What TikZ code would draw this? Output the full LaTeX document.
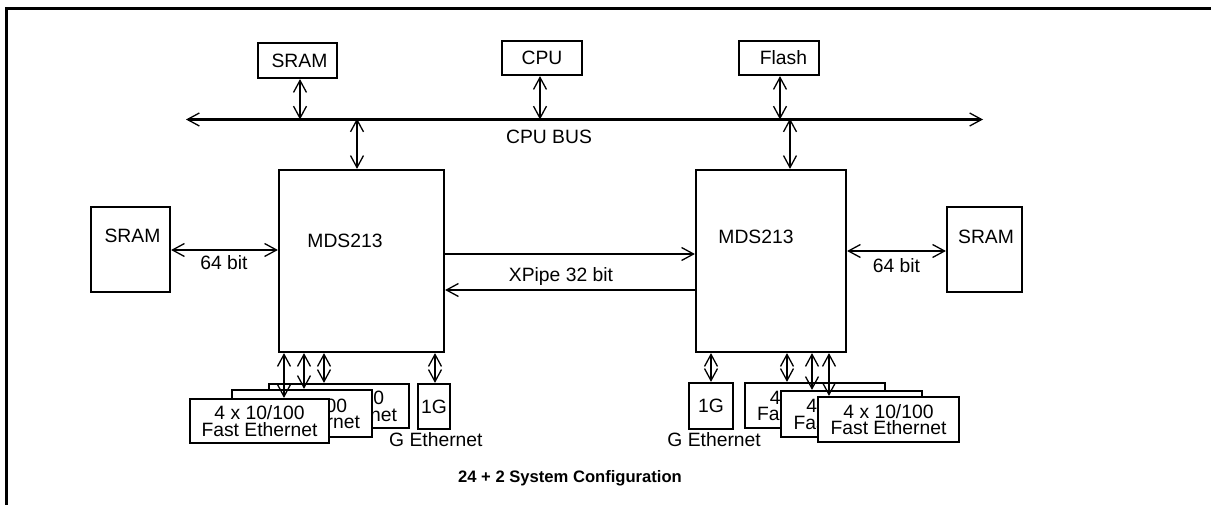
\documentclass[tikz,border=0pt]{standalone}
\usepackage{fontspec}
\setmainfont{Liberation Sans}
\usetikzlibrary{arrows.meta}
\newcommand\myfs{\fontsize{19.3}{16.5}\selectfont}
\tikzset{
  bb/.tip={Straight Barb[length=12pt,width=13pt,line width=1.3pt]},
  ln/.style={line width=2.2pt},
  both/.style={ln, bb-bb},
  tor/.style={ln, -bb},
  blk/.style={draw, line width=2.2pt, inner sep=0pt, fill=white, font=\myfs, align=center},
  capbox/.style={blk, text height=13.8pt, text depth=0pt},
  lbl/.style={inner sep=0pt, font=\myfs, text height=13.8pt, text depth=0pt},
}
\begin{document}
\begin{tikzpicture}[x=1pt,y=-1pt]
\useasboundingbox (0,0) rectangle (1211,505);
% frame
\coordinate (fTL) at (6,8.5);
\coordinate (fTR) at (1211,8.5);
\coordinate (fBL) at (6,505);
\draw[line width=3pt] (fTR) -- (fTL) -- (fBL);

% CPU bus
\coordinate (busL) at (186,119.5);
\coordinate (busR) at (983,119.5);
\draw[both] (busL) -- (busR);
\node[lbl] (busLabel) at (549,137) {CPU BUS};

% top devices
\node[capbox, minimum width=79pt, minimum height=35pt] (sramT) at (297.5,60.5) {\hspace*{4pt}SRAM};
\node[capbox, minimum width=80pt, minimum height=34pt] (cpu) at (542,58) {CPU};
\node[capbox, minimum width=80pt, minimum height=34pt] (flash) at (779,58) {\hspace*{9pt}Flash};
\coordinate (tapSram) at (300,119.5);
\coordinate (tapCpu) at (540,119.5);
\coordinate (tapFlash) at (780,119.5);
\coordinate (tapL) at (357,119.5);
\coordinate (tapR) at (790,119.5);

% MDS213 chips
\node[blk, minimum width=165pt, minimum height=182pt] (mdsL) at (361.5,261) {};
\node[blk, minimum width=150pt, minimum height=182pt] (mdsR) at (771,261) {};
\node[lbl] (mdsLtxt) at (345,241) {MDS213};
\node[lbl] (mdsRtxt) at (756,237) {MDS213};

% side SRAMs
\node[blk, minimum width=79pt, minimum height=85pt] (sramL) at (130.5,249.5) {};
\node[lbl] (sramLtxt) at (132.5,236) {SRAM};
\node[blk, minimum width=75pt, minimum height=85pt] (sramR) at (984.5,249.5) {};
\node[lbl] (sramRtxt) at (986,237) {SRAM};

% bus connections
\draw[both] (sramT.south -| tapSram) -- (tapSram);
\draw[both] (cpu.south -| tapCpu) -- (tapCpu);
\draw[both] (flash.south -| tapFlash) -- (tapFlash);
\draw[both] ([yshift=1pt]tapL) -- (tapL |- mdsL.north);
\draw[both] ([yshift=1pt]tapR) -- (tapR |- mdsR.north);

% 64 bit links
\coordinate (l64) at (0,250);
\coordinate (r64) at (0,251);
\draw[both] (sramL.east |- l64) -- (mdsL.west |- l64);
\node[lbl] (l64txt) at (224,263) {64 bit};
\draw[both] (mdsR.east |- r64) -- (sramR.west |- r64);
\node[lbl] (r64txt) at (896.5,266) {64 bit};

% XPipe
\coordinate (xpU) at (0,254);
\coordinate (xpD) at (0,290);
\draw[tor] (mdsL.east |- xpU) -- (mdsR.west |- xpU);
\draw[tor] (mdsR.west |- xpD) -- (mdsL.east |- xpD);
\node[lbl] (xpTxt) at (561,275) {XPipe 32 bit};

% bottom left ports
\node[blk, minimum width=140pt, minimum height=44pt] (feL3) at (339,406) {4 x 10/100\\Fast Ethernet};
\node[blk, minimum width=140pt, minimum height=47pt] (feL2) at (302,413.5) {4 x 10/100\\Fast Ethernet};
\node[blk, minimum width=139pt, minimum height=44pt] (feL1) at (259.5,421) {4 x 10/100\\Fast Ethernet};
\node[capbox, minimum width=32pt, minimum height=45pt] (gL) at (434,406.5) {1G};
\node[lbl, anchor=west] (gLtxt) at (389,440) {G Ethernet};

% bottom right ports
\node[capbox, minimum width=44pt, minimum height=46pt] (gR) at (711,406) {1G};
\node[lbl, anchor=east] (gRtxt) at (761,440) {G Ethernet};
\node[blk, minimum width=140pt, minimum height=45pt] (feR3) at (815,405.5) {4 x 10/100\\Fast Ethernet};
\node[blk, minimum width=141pt, minimum height=46pt] (feR2) at (851.5,414) {4 x 10/100\\Fast Ethernet};
\node[blk, minimum width=141pt, minimum height=45pt] (feR1) at (888.5,419.5) {4 x 10/100\\Fast Ethernet};

% bottom connectors
\coordinate (pL1) at (284,0);
\coordinate (pL2) at (304,0);
\coordinate (pL3) at (324,0);
\coordinate (pLg) at (435,0);
\draw[both] (mdsL.south -| pL1) -- (feL1.north -| pL1);
\draw[both] (mdsL.south -| pL2) -- (feL2.north -| pL2);
\draw[both] (mdsL.south -| pL3) -- (feL3.north -| pL3);
\draw[both] (mdsL.south -| pLg) -- (gL.north -| pLg);
\coordinate (pRg) at (711,0);
\coordinate (pR3) at (787,0);
\coordinate (pR2) at (812,0);
\coordinate (pR1) at (829,0);
\draw[both] (mdsR.south -| pRg) -- (gR.north -| pRg);
\draw[both] (mdsR.south -| pR3) -- (feR3.north -| pR3);
\draw[both] (mdsR.south -| pR2) -- (feR2.north -| pR2);
\draw[both] (mdsR.south -| pR1) -- (feR1.north -| pR1);

% caption
\node[inner sep=0pt, font=\fontsize{16.6}{18}\selectfont\bfseries] (caption) at (570,478) {24 + 2 System Configuration};
\end{tikzpicture}
\end{document}
